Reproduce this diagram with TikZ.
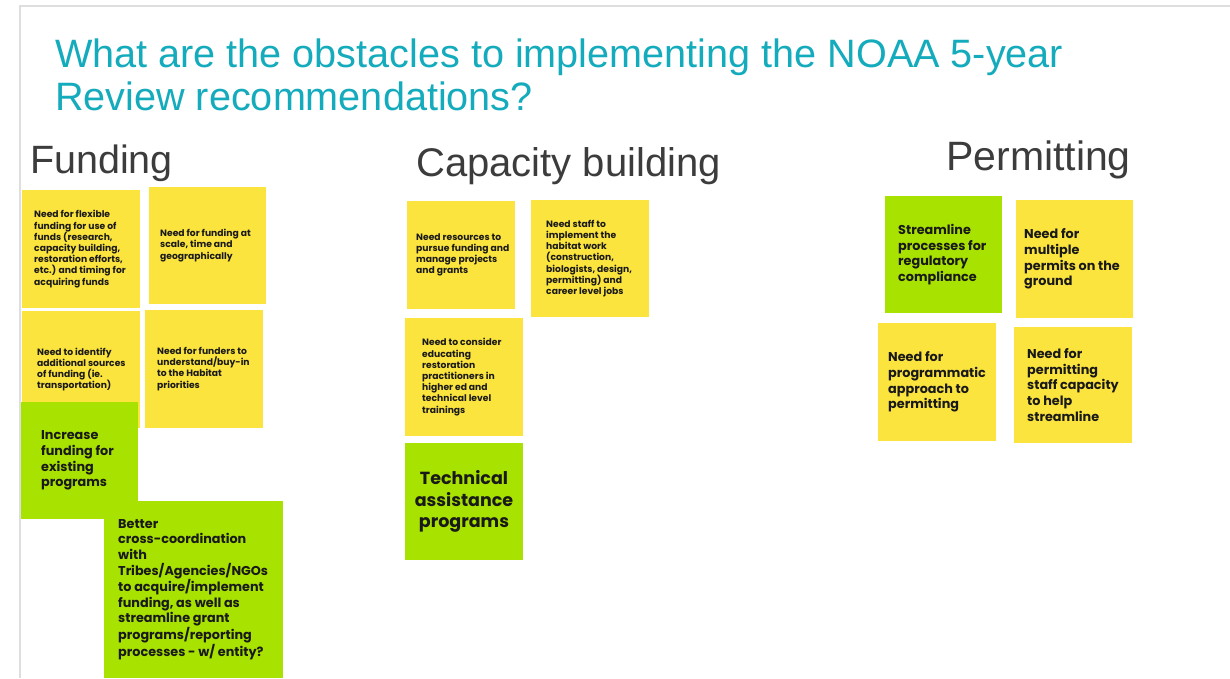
\documentclass[tikz,border=0pt]{standalone}
\usepackage{fontspec}
\setmainfont{Liberation Sans}
\newfontfamily\notefont{Poppins}
\definecolor{titleteal}{RGB}{20,171,189}
\definecolor{headgray}{RGB}{60,60,60}
\definecolor{stickyyellow}{RGB}{252,228,62}
\definecolor{stickygreen}{RGB}{168,226,0}
\definecolor{notetext}{RGB}{25,25,25}
\definecolor{framegray}{RGB}{222,222,222}
\tikzset{
  note/.style={anchor=north west, inner sep=0pt, outer sep=0pt, draw=none},
  yel/.style={note, fill=stickyyellow},
  grn/.style={note, fill=stickygreen},
  txt/.style={anchor=west, inner sep=0pt, align=left, text=notetext},
  small/.style={txt, font={\notefont\bfseries\fontsize{9.2}{11.2}\selectfont}},
  medium/.style={txt, font={\notefont\bfseries\fontsize{12.8}{15.6}\selectfont}},
  large/.style={anchor=center, inner sep=0pt, align=center, text=notetext, font={\notefont\bfseries\fontsize{17.5}{21.7}\selectfont}},
  head/.style={anchor=base west, inner sep=0pt, text=headgray},
  ttl/.style={anchor=base west, inner sep=0pt, text=titleteal, font={\fontsize{39.6}{45}\selectfont}},
}
\begin{document}
\begin{tikzpicture}[x=1pt,y=-1pt]
\useasboundingbox (0,0) rectangle (1230,678);
\fill[white] (0,0) rectangle (1230,678);
% slide frame
\coordinate (ftl) at (20,6);
\coordinate (ftr) at (1230,6);
\coordinate (fbl) at (20,678);
\draw[framegray, line width=1.2pt] (fbl) -- (ftl) -- (ftr);
% title
\node[ttl] (t1) at (55,67) {What are the obstacles to implementing the NOAA 5-year};
\node[ttl] (t2) at (55,110) {Review recommendations?};
% headers
\node[head, font={\fontsize{39.5}{45}\selectfont}] (hfund) at (30,173) {Funding};
\node[head, font={\fontsize{40}{45}\selectfont}] (hcap) at (416,176) {Capacity building};
\node[head, font={\fontsize{41}{45}\selectfont}] (hperm) at (946,170) {Permitting};
% Funding notes
\node[yel, minimum width=118pt, minimum height=118pt] (na) at (22,190) {};
\node[small] (ta) at ([xshift=12pt]na.west) {Need for flexible\\funding for use of\\funds (research,\\capacity building,\\restoration efforts,\\etc.) and timing for\\acquiring funds};
\node[yel, minimum width=117pt, minimum height=117pt] (nb) at (149,187) {};
\node[small] (tb) at ([xshift=11pt]nb.west) {Need for funding at\\scale, time and\\geographically};
\node[yel, minimum width=118pt, minimum height=117pt] (nc) at (22,311) {};
\node[small] (tc) at ([xshift=15pt]nc.west) {Need to identify\\additional sources\\of funding (ie.\\transportation)};
\node[yel, minimum width=118pt, minimum height=118pt] (nd) at (145,310) {};
\node[small] (td) at ([xshift=12pt]nd.west) {Need for funders to\\understand/buy-in\\to the Habitat\\priorities};
\node[grn, minimum width=117pt, minimum height=117pt] (ne) at (21,402) {};
\node[medium] (te) at ([xshift=20pt]ne.west) {Increase\\funding for\\existing\\programs};
\node[grn, minimum width=179pt, minimum height=177pt] (nf) at (104,501) {};
\node[medium] (tf) at ([xshift=14pt]nf.west) {Better\\cross-coordination\\with\\Tribes/Agencies/NGOs\\to acquire/implement\\funding, as well as\\streamline grant\\programs/reporting\\processes - w/ entity?};
% Capacity building notes
\node[yel, minimum width=108pt, minimum height=108pt] (ng) at (407,201) {};
\node[small] (tg) at ([xshift=9pt]ng.west) {Need resources to\\pursue funding and\\manage projects\\and grants};
\node[yel, minimum width=118pt, minimum height=117pt] (nh) at (531,200) {};
\node[small] (th) at ([xshift=15pt]nh.west) {Need staff to\\implement the\\habitat work\\(construction,\\biologists, design,\\permitting) and\\career level jobs};
\node[yel, minimum width=118pt, minimum height=118pt] (ni) at (405,318) {};
\node[small] (ti) at ([xshift=17pt]ni.west) {Need to consider\\educating\\restoration\\practitioners in\\higher ed and\\technical level\\trainings};
\node[grn, minimum width=118pt, minimum height=117pt] (nj) at (405,443) {};
\node[large] (tj) at (nj.center) {Technical\\assistance\\programs};
% Permitting notes
\node[grn, minimum width=117pt, minimum height=117pt] (nk) at (885,196) {};
\node[medium] (tk) at ([xshift=13pt]nk.west) {Streamline\\processes for\\regulatory\\compliance};
\node[yel, minimum width=117pt, minimum height=118pt] (nl) at (1016,200) {};
\node[medium] (tl) at ([xshift=8pt]nl.west) {Need for\\multiple\\permits on the\\ground};
\node[yel, minimum width=118pt, minimum height=118pt] (nm) at (878,323) {};
\node[medium] (tm) at ([xshift=10pt]nm.west) {Need for\\programmatic\\approach to\\permitting};
\node[yel, minimum width=118pt, minimum height=116pt] (nn) at (1014,327) {};
\node[medium] (tn) at ([xshift=13pt]nn.west) {Need for\\permitting\\staff capacity\\to help\\streamline};
\end{tikzpicture}
\end{document}
